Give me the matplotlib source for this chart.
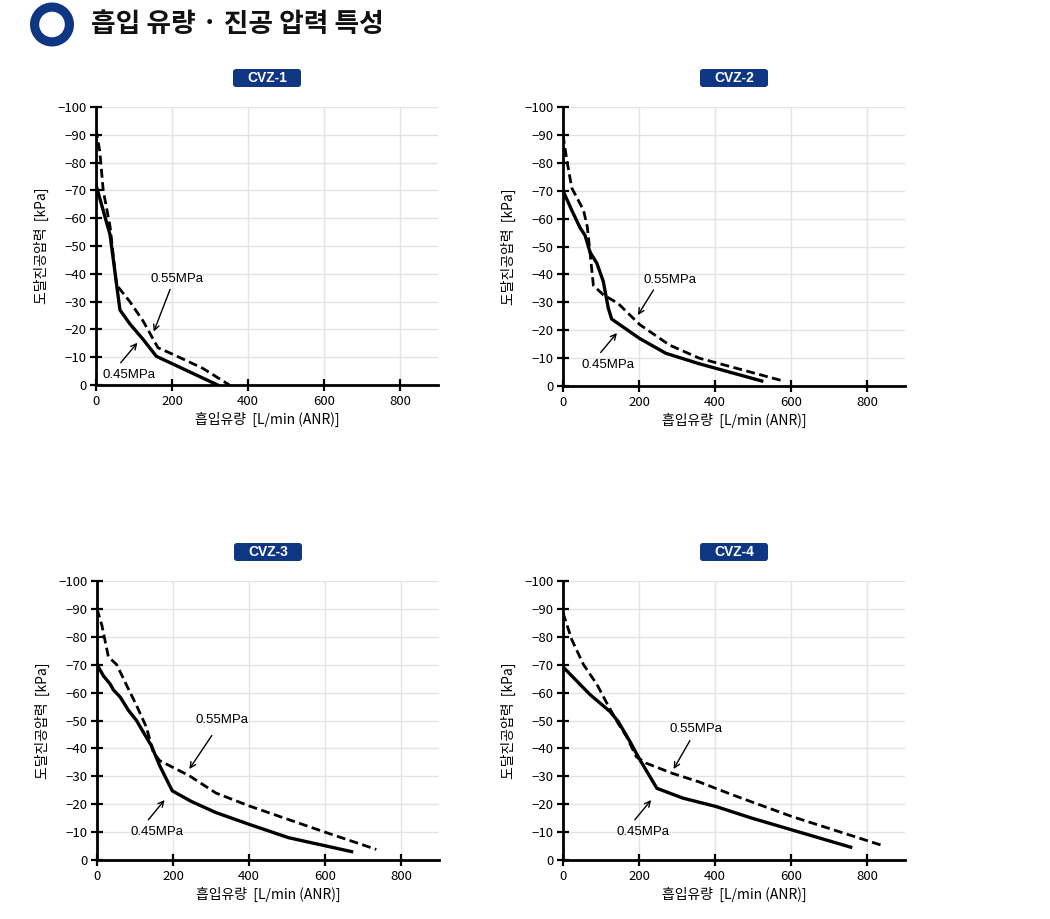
import matplotlib
matplotlib.use("Agg")
import matplotlib.pyplot as plt
from matplotlib.patches import FancyBboxPatch, Circle

plt.rcParams['font.family'] = ['Noto Sans CJK KR', 'DejaVu Sans']
plt.rcParams['axes.unicode_minus'] = True

NAVY = '#0f3683'

# ---- data ----
titles = ['CVZ-1', 'CVZ-2', 'CVZ-3', 'CVZ-4']

cvz1_045_x = [0, 37, 63, 89, 124, 159, 203, 320]
cvz1_045_y = [-72, -54, -27, -22, -16.4, -10.3, -7.5, 0]
cvz1_055_x = [0, 10, 19, 37, 54, 89, 124, 163, 203, 281, 351]
cvz1_055_y = [-92, -84, -70, -57, -36, -30, -23, -13.4, -11, -6, 0]

cvz2_045_x = [0, 23, 45, 58, 71, 89, 106, 119, 128, 202, 271, 358, 523]
cvz2_045_y = [-70, -63, -56.7, -54, -48, -44, -37.5, -28, -24, -17, -11.7, -8, -1.8]
cvz2_055_x = [0, 10, 23, 54, 64, 71, 80, 106, 145, 202, 280, 358, 574]
cvz2_055_y = [-90, -81, -71, -63, -57, -48, -36, -32.7, -29.6, -22, -14.7, -10, -2]

cvz3_045_x = [0, 17, 35, 43, 61, 83, 104, 122, 143, 165, 198, 248, 313, 400, 504, 670]
cvz3_045_y = [-70, -66, -63, -61, -58.4, -53.6, -50, -45.8, -41, -33.8, -24.8, -21, -17, -12.8, -8, -3]
cvz3_055_x = [0, 13, 30, 52, 78, 104, 130, 148, 165, 243, 313, 400, 591, 735]
cvz3_055_y = [-90, -84, -72.8, -70, -62.6, -55.4, -47.6, -38.6, -35.6, -30.2, -24, -19.4, -10.4, -3.8]

cvz4_045_x = [0, 28, 71, 123, 145, 176, 202, 247, 315, 402, 497, 602, 757]
cvz4_045_y = [-69.2, -65.3, -59.3, -53.3, -49.7, -42.5, -36, -25.7, -22.2, -19.2, -15, -10.8, -4.6]
cvz4_055_x = [0, 23, 54, 89, 115, 145, 167, 193, 219, 289, 358, 445, 602, 845]
cvz4_055_y = [-88.6, -79, -70, -63, -56.3, -49, -44.3, -37, -34.7, -31, -28, -23.4, -15.6, -5]

series_045 = [(cvz1_045_x, cvz1_045_y), (cvz2_045_x, cvz2_045_y),
              (cvz3_045_x, cvz3_045_y), (cvz4_045_x, cvz4_045_y)]
series_055 = [(cvz1_055_x, cvz1_055_y), (cvz2_055_x, cvz2_055_y),
              (cvz3_055_x, cvz3_055_y), (cvz4_055_x, cvz4_055_y)]

# annotation label positions (text xy, arrow tail, arrow head) in data units
ann_055 = [((212, -38), (195, -34.4), (152, -19.2)),
           ((282, -38), (238, -34.4), (197, -25.4)),
           ((328, -50.3), (302, -44.6), (243, -32.6)),
           ((350, -47), (334, -42.8), (291, -32.6))]
ann_045 = [((87, -3.7), (65, -8), (109, -15.2)),
           ((119, -7.6), (99, -12), (142, -19)),
           ((157, -9.9), (135, -14.4), (178, -21.5)),
           ((210, -10.2), (189, -14.4), (232, -21.5))]

x_ticks = [0, 200, 400, 600, 800]
y_ticks = [0, -10, -20, -30, -40, -50, -60, -70, -80, -90, -100]
x_label = '흡입유량  [L/min (ANR)]'
y_label = '도달진공압력  [kPa]'
main_title = '흡입 유량 · 진공 압력 특성'

W, H = 1050, 919
fig = plt.figure(figsize=(W / 100, H / 100), dpi=100)

# axes rectangles in pixels: left, top, right, bottom
rects = [(96, 107, 438, 385), (563, 107, 905, 386),
         (97, 581, 439, 860), (563, 581, 905, 860)]

for i, (l, t, r, b) in enumerate(rects):
    ax = fig.add_axes([l / W, 1 - b / H, (r - l) / W, (b - t) / H])
    x1, y1 = series_045[i]
    x2, y2 = series_055[i]
    ax.plot(x1, y1, color='black', lw=2.4, solid_joinstyle='round', zorder=3)
    ax.plot(x2, y2, color='black', lw=2.0, ls=(0, (3.2, 1.6)), zorder=3)
    ax.set_xlim(0, 900)
    ax.set_ylim(0, -100)
    ax.set_xticks(x_ticks)
    ax.set_yticks(y_ticks)
    ax.set_xticklabels([str(v) for v in x_ticks])
    ax.set_yticklabels([f'\u2212{abs(v)}' if v != 0 else '0' for v in y_ticks])
    ax.grid(True, color='#e3e3e3', lw=1.0, zorder=0)
    ax.set_axisbelow(True)
    for s in ['top', 'right']:
        ax.spines[s].set_visible(False)
    for s in ['left', 'bottom']:
        ax.spines[s].set_linewidth(2.0)
        ax.spines[s].set_color('black')
    ax.tick_params(direction='inout', length=8, width=1.6, labelsize=9.5,
                   colors='black', pad=3)
    ax.set_xlabel(x_label, fontsize=10, labelpad=3)
    ax.set_ylabel(y_label, fontsize=10, labelpad=6)

    (tx, ty), (ax0, ay0), (ax1, ay1) = ann_055[i]
    ax.text(tx, ty, '0.55MPa', fontsize=9.5, ha='center', va='center',
            family=['Liberation Sans', 'DejaVu Sans'])
    ax.annotate('', xy=(ax1, ay1), xytext=(ax0, ay0),
                arrowprops=dict(arrowstyle='->', lw=1.0, color='black',
                                shrinkA=0, shrinkB=0, mutation_scale=10))
    (tx, ty), (ax0, ay0), (ax1, ay1) = ann_045[i]
    ax.text(tx, ty, '0.45MPa', fontsize=9.5, ha='center', va='center',
            family=['Liberation Sans', 'DejaVu Sans'])
    ax.annotate('', xy=(ax1, ay1), xytext=(ax0, ay0),
                arrowprops=dict(arrowstyle='->', lw=1.0, color='black',
                                shrinkA=0, shrinkB=0, mutation_scale=10))

    # badge
    cx = (l + r) / 2
    cy = t - 29
    bw, bh = 68, 18
    badge = FancyBboxPatch(((cx - bw / 2) / W, 1 - (cy + bh / 2) / H),
                           bw / W, bh / H,
                           boxstyle='round,pad=0,rounding_size=0.003',
                           transform=fig.transFigure, facecolor=NAVY,
                           edgecolor='none')
    fig.patches.append(badge)
    fig.text(cx / W, 1 - cy / H, titles[i], color='white', fontsize=10,
             fontweight='bold', ha='center', va='center',
             family=['Liberation Sans', 'DejaVu Sans'])

# title ring
ring_ax = fig.add_axes([0, 0, 1, 1], facecolor='none')
ring_ax.set_xlim(0, W)
ring_ax.set_ylim(H, 0)
ring_ax.axis('off')
ring_ax.add_patch(Circle((52, 24.5), 17.4, facecolor='none', edgecolor=NAVY, lw=6.6))
ring_ax.text(91, 24.5, main_title, fontsize=19.3, fontweight='bold',
             ha='left', va='center', color='#111111')

fig.savefig('out.png', dpi=100, facecolor='white')
